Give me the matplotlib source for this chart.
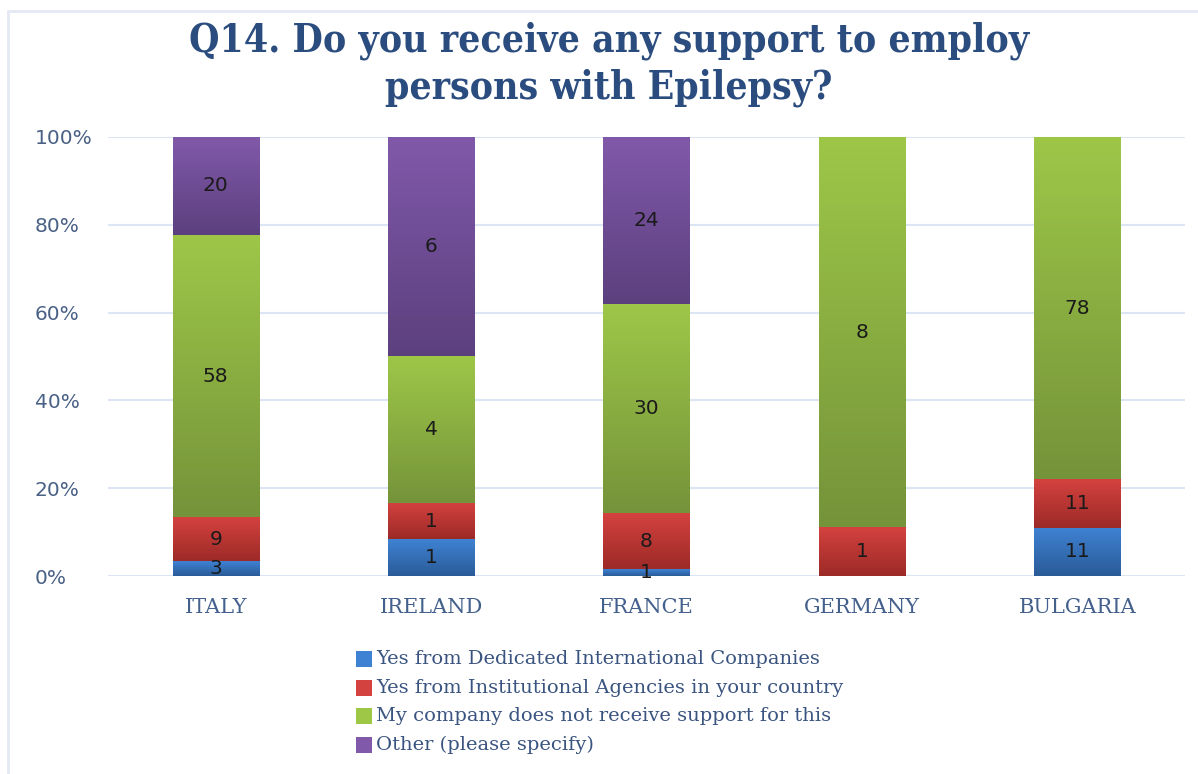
import numpy as np
import matplotlib
matplotlib.use("Agg")
import matplotlib.pyplot as plt
from matplotlib.colors import LinearSegmentedColormap
from matplotlib.patches import Rectangle
from matplotlib.ticker import PercentFormatter

# Survey answers per country (counts)
countries = ["ITALY", "IRELAND", "FRANCE", "GERMANY", "BULGARIA"]
series_names = [
    "Yes from Dedicated International Companies",
    "Yes from Institutional Agencies in your country",
    "My company does not receive support for this",
    "Other (please specify)",
]
intl_companies = [3, 1, 1, 0, 11]
institutional = [9, 1, 8, 1, 11]
no_support = [58, 4, 30, 8, 78]
other = [20, 6, 24, 0, 0]

# gradient colours (top, bottom) for each series
grad_colors = [
    ("#3f82d3", "#2a5b98"),
    ("#d4423f", "#9c2a27"),
    ("#9ec748", "#75933a"),
    ("#8159aa", "#5c407e"),
]

title_color = "#2b4c7e"
label_color = "#44608c"
grid_color = "#dbe5f3"

W, H = 1198, 774
fig = plt.figure(figsize=(W / 100, H / 100), dpi=100)
fig.patch.set_facecolor("white")

# chart frame
fig.add_artist(Rectangle((8.0 / W, -0.1), 1.2, 1.1 - 11.5 / H, transform=fig.transFigure,
                         fill=False, edgecolor="#e3e8f4", linewidth=2.0))

ax = fig.add_axes([108 / W, 1 - 576 / H, (1185 - 108) / W, (576 - 137) / H])

counts = np.array([intl_companies, institutional, no_support, other], dtype=float)
totals = counts.sum(axis=0)
shares = counts / totals

x = np.arange(len(countries))
bar_w = 0.4
bottom = np.zeros(len(countries))
grad = np.linspace(1, 0, 256).reshape(-1, 1)
for k in range(len(series_names)):
    cmap = LinearSegmentedColormap.from_list(f"g{k}", [grad_colors[k][1], grad_colors[k][0]])
    bars = ax.bar(x, shares[k], bar_w, bottom=bottom, color=grad_colors[k][0],
                  edgecolor="none", zorder=2)
    for i, b in enumerate(bars):
        if counts[k, i] == 0:
            continue
        x0, y0 = b.get_x(), b.get_y()
        ax.imshow(grad, cmap=cmap, aspect="auto", interpolation="bicubic",
                  extent=(x0, x0 + b.get_width(), y0, y0 + b.get_height()), zorder=3)
        ax.text(x[i], y0 + b.get_height() / 2, f"{int(counts[k, i])}", ha="center", va="center",
                fontsize=14.5, color="#1a1a1a", family="DejaVu Sans", zorder=5)
    bottom += shares[k]

ax.set_xlim(-0.5, len(countries) - 0.5)
ax.set_ylim(0, 1)
ax.yaxis.set_major_formatter(PercentFormatter(1.0, decimals=0))
ax.set_yticks(np.linspace(0, 1, 6))
ax.set_xticks(x)
ax.set_xticklabels(countries, family="DejaVu Serif", fontsize=15, color=label_color)
# left-aligned percentage labels
ax.tick_params(axis="y", pad=73 * 0.72)
for t in ax.get_yticklabels():
    t.set_family("DejaVu Sans")
    t.set_fontsize(14.5)
    t.set_color("#4a6186")
    t.set_horizontalalignment("left")
ax.tick_params(axis="both", length=0)
ax.tick_params(axis="x", pad=16)
ax.grid(axis="y", color=grid_color, linewidth=1.5, zorder=0)
ax.set_axisbelow(True)
for s in ax.spines.values():
    s.set_visible(False)

# title
fig.text(609 / W, 1 - 64 / H, "Q14. Do you receive any support to employ\npersons with Epilepsy?",
         ha="center", va="center", fontsize=28, fontweight="bold", family="DejaVu Serif",
         fontstretch="condensed", color=title_color, linespacing=1.3)

# legend
leg_x = 356
leg_y0 = 659
leg_dy = 28.7
for k, name in enumerate(series_names):
    yc = leg_y0 + k * leg_dy
    fig.add_artist(Rectangle((leg_x / W, 1 - (yc + 8) / H), 16 / W, 16 / H,
                             transform=fig.transFigure, facecolor=grad_colors[k][0],
                             edgecolor="none"))
    fig.text((leg_x + 20) / W, 1 - yc / H, name, ha="left", va="center",
             fontsize=14, family="DejaVu Serif", color="#3a5480")

fig.savefig("out.png", dpi=100)
